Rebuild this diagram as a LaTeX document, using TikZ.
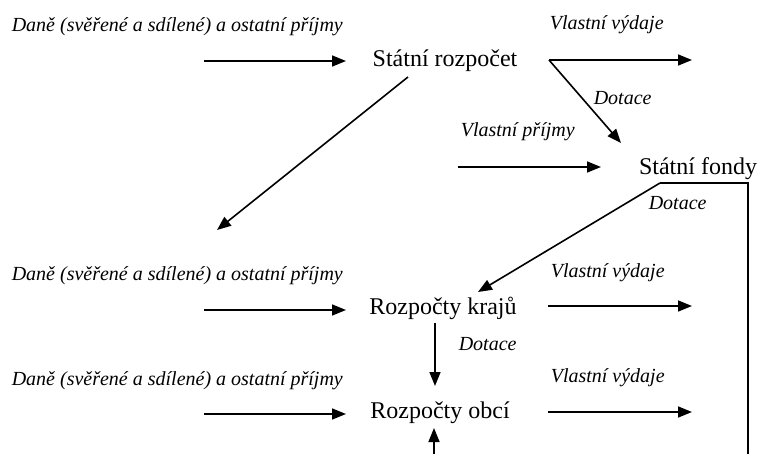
\documentclass[tikz,border=0pt]{standalone}
\usepackage{fontspec}
\setmainfont{Liberation Serif}
\usetikzlibrary{arrows.meta}
\begin{document}
\begin{tikzpicture}[x=1pt,y=-1pt,line width=1.6pt,
  arr/.style={-{Triangle[length=14pt,width=11pt]}},
  plain/.style={-},
  main/.style={font=\fontsize{24}{28}\selectfont,inner sep=0pt,anchor=base},
  lbl/.style={font=\fontsize{20}{24}\selectfont\itshape,inner sep=0pt,anchor=base west}]
\useasboundingbox (0,0) rectangle (760,454);

% main nodes
\node[main] (sr) at (445,67) {Státní rozpočet};
\node[main] (sf) at (698,175) {Státní fondy};
\node[main] (rk) at (443,314) {Rozpočty krajů};
\node[main] (ro) at (440,418) {Rozpočty obcí};

% labels
\node[lbl] (l1) at (11,32) {Daně (svěřené a sdílené) a ostatní příjmy};
\node[lbl] (l2) at (11,280) {Daně (svěřené a sdílené) a ostatní příjmy};
\node[lbl] (l3) at (11,385) {Daně (svěřené a sdílené) a ostatní příjmy};
\node[lbl] (v1) at (549,30) {Vlastní výdaje};
\node[lbl] (v2) at (550,277) {Vlastní výdaje};
\node[lbl] (v3) at (550,382) {Vlastní výdaje};
\node[lbl] (vp) at (460,137) {Vlastní příjmy};
\node[lbl] (d1) at (593,105) {Dotace};
\node[lbl] (d2) at (648,210) {Dotace};
\node[lbl] (d3) at (458,350) {Dotace};

% coordinates
\coordinate (a1s) at (204,61);  \coordinate (a1e) at (346,61);
\coordinate (a2s) at (204,310); \coordinate (a2e) at (346,310);
\coordinate (a3s) at (204,414); \coordinate (a3e) at (346,414);
\coordinate (b1s) at (549,60);  \coordinate (b1e) at (692,60);
\coordinate (b2s) at (548,306); \coordinate (b2e) at (692,306);
\coordinate (b3s) at (548,412); \coordinate (b3e) at (692,412);
\coordinate (ds) at (621,143);
\coordinate (ps) at (458,167);  \coordinate (pe) at (601,167);
\coordinate (srd) at (408,77);  \coordinate (srk) at (217,230);
\coordinate (fb) at (660,183);  \coordinate (fr) at (748,183);
\coordinate (fbot) at (748,454);
\coordinate (rkt) at (478,292);
\coordinate (kd1) at (435,323); \coordinate (kd2) at (435,386);
\coordinate (ub) at (434,454);  \coordinate (ut) at (434,428);

% connectors
\draw[arr] (a1s) -- (a1e);
\draw[arr] (a2s) -- (a2e);
\draw[arr] (a3s) -- (a3e);
\draw[arr] (b1s) -- (b1e);
\draw[arr] (b2s) -- (b2e);
\draw[arr] (b3s) -- (b3e);
\draw[arr] (b1s) -- (ds);
\draw[arr] (ps) -- (pe);
\draw[arr] (srd) -- (srk);
\draw[plain] (fbot) -- (fr) -- (fb);
\draw[arr] (fb) -- (rkt);
\draw[arr] (kd1) -- (kd2);
\draw[arr] (ub) -- (ut);
\end{tikzpicture}
\end{document}
